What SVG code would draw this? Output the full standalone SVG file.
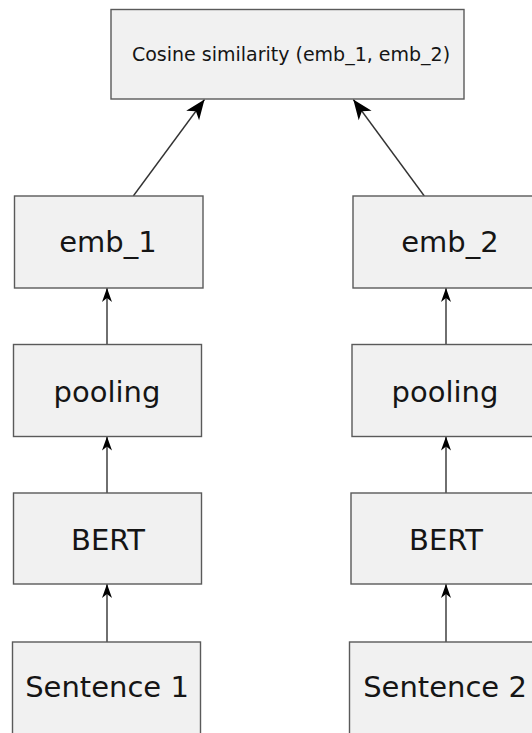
<svg xmlns="http://www.w3.org/2000/svg" width="532" height="733" viewBox="0 0 532 733">
<style>
.box{fill:#f1f1f1;stroke:#5a5a5a;stroke-width:1.4}
.lbl{font-family:"DejaVu Sans",Verdana,sans-serif;font-size:29px;fill:#151515;text-anchor:middle}
.top{font-family:"DejaVu Sans",Verdana,sans-serif;font-size:19px;fill:#151515;text-anchor:middle}
.edge{fill:none;stroke:#333;stroke-width:1.4}
</style>
<defs>
<marker id="big" markerUnits="userSpaceOnUse" viewBox="-21 -9 22 18" refX="0" refY="0" markerWidth="22" markerHeight="18" orient="auto">
<path d="M0,0 L-20,-8 L-14.5,0 L-20,8 Z" fill="#000"/>
</marker>
<marker id="small" markerUnits="userSpaceOnUse" viewBox="-15 -6 16 12" refX="0" refY="0" markerWidth="16" markerHeight="12" orient="auto">
<path d="M0,0 L-14,-5 L-10,0 L-14,5 Z" fill="#000"/>
</marker>
</defs>
<g id="connectors">
<path class="edge" d="M133.3,196 L204.5,99.5" marker-end="url(#big)"/>
<path class="edge" d="M424.3,196 L353.3,99.5" marker-end="url(#big)"/>
<path class="edge" d="M107,344.5 L107,288" marker-end="url(#small)"/>
<path class="edge" d="M107,493 L107,436.5" marker-end="url(#small)"/>
<path class="edge" d="M107,642 L107,584" marker-end="url(#small)"/>
<path class="edge" d="M446,344.5 L446,288" marker-end="url(#small)"/>
<path class="edge" d="M446,493 L446,436.5" marker-end="url(#small)"/>
<path class="edge" d="M446,642 L446,584" marker-end="url(#small)"/>
</g>
<g id="cosine">
<rect class="box" x="111" y="9.5" width="353" height="89.5"/>
<text class="top" x="291" y="61">Cosine similarity (emb_1, emb_2)</text>
</g>
<g id="emb_1">
<rect class="box" x="14.5" y="196" width="188.5" height="92"/>
<text class="lbl" x="108" y="252">emb_1</text>
</g>
<g id="pooling_1">
<rect class="box" x="13.5" y="344.5" width="188" height="92"/>
<text class="lbl" x="107" y="402">pooling</text>
</g>
<g id="bert_1">
<rect class="box" x="13.5" y="493" width="188" height="91"/>
<text class="lbl" x="108" y="549.5">BERT</text>
</g>
<g id="sentence_1">
<rect class="box" x="12.5" y="642" width="188" height="96"/>
<text class="lbl" x="107" y="697">Sentence 1</text>
</g>
<g id="emb_2">
<rect class="box" x="353" y="196" width="188.5" height="92"/>
<text class="lbl" x="450" y="252">emb_2</text>
</g>
<g id="pooling_2">
<rect class="box" x="352" y="344.5" width="188.5" height="92"/>
<text class="lbl" x="445" y="402">pooling</text>
</g>
<g id="bert_2">
<rect class="box" x="351" y="493" width="188.5" height="91"/>
<text class="lbl" x="446" y="549.5">BERT</text>
</g>
<g id="sentence_2">
<rect class="box" x="349.5" y="642" width="188.5" height="96"/>
<text class="lbl" x="445" y="697">Sentence 2</text>
</g>
</svg>
